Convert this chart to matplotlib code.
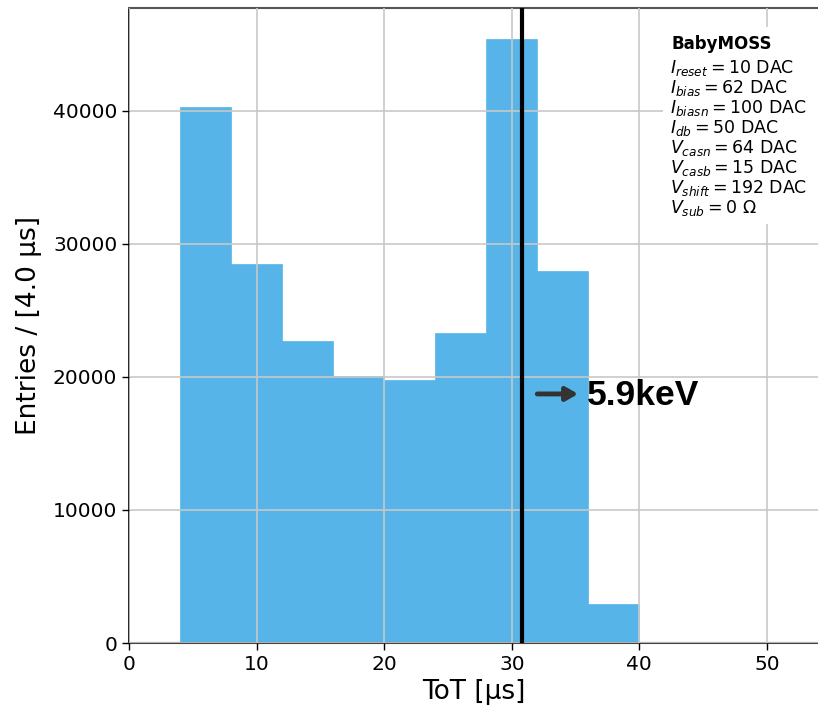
import matplotlib
matplotlib.use("Agg")
import matplotlib.pyplot as plt
from matplotlib import font_manager as fm
import numpy as np

# Data
bin_edges = [4, 8, 12, 16, 20, 24, 28, 32, 36, 40, 44]
counts = [40250, 28500, 22700, 20080, 19780, 23300, 45420, 27970, 2930, 60]
peak_tot = 30.8
peak_label = "5.9keV"
info_title = "BabyMOSS"
info_lines = [
    r"$I_{reset} = 10$ DAC",
    r"$I_{bias} = 62$ DAC",
    r"$I_{biasn} = 100$ DAC",
    r"$I_{db} = 50$ DAC",
    r"$V_{casn} = 64$ DAC",
    r"$V_{casb} = 15$ DAC",
    r"$V_{shift} = 192$ DAC",
    r"$V_{sub} = 0\ \Omega$",
]
xticks = [0, 10, 20, 30, 40, 50]
yticks = [0, 10000, 20000, 30000, 40000]

bold_path = None
for f in fm.findSystemFonts():
    if f.split("/")[-1] == "LiberationSans-Bold.ttf":
        bold_path = f
        break
if bold_path:
    peak_font = fm.FontProperties(fname=bold_path, size=25.5)
else:
    peak_font = fm.FontProperties(family="Roboto", weight="bold", size=25.5)

fig = plt.figure(figsize=(8.18, 7.05), dpi=100)
ax = fig.add_axes([0.1577, 0.0879, 0.8423, 0.9001])

widths = np.diff(bin_edges)
ax.bar(bin_edges[:-1], counts, width=widths, align="edge",
       color="#56B4E9", edgecolor="#56B4E9", linewidth=0.5, zorder=1)

ax.set_xlim(0, 54)
ax.set_ylim(0, 1.05 * max(counts))
ax.set_xticks(xticks)
ax.set_yticks(yticks)
ax.grid(True, color="#c8c8c8", linewidth=1.2, zorder=2)
ax.set_axisbelow(False)
ax.tick_params(axis="both", labelsize=14.5, direction="out", length=5, width=1)

ax.spines["right"].set_visible(False)
ax.spines["top"].set_color("#555555")
ax.spines["top"].set_linewidth(1.5)
ax.spines["left"].set_linewidth(1.2)
ax.spines["bottom"].set_color("#444444")
ax.spines["bottom"].set_linewidth(1.5)

ax.set_xlabel("ToT [μs]", fontsize=19, labelpad=4)
ax.set_ylabel("Entries / [4.0 μs]", fontsize=19, labelpad=8)

ax.axvline(peak_tot, color="black", linewidth=3, zorder=5)

ax.annotate("", xy=(35.2, 18720), xytext=(32.0, 18720),
            arrowprops=dict(arrowstyle="-|>,head_length=0.7,head_width=0.4",
                            color="#333333", lw=3.5, shrinkA=0, shrinkB=0),
            zorder=6)
ax.text(35.85, 18600, peak_label, fontproperties=peak_font,
        va="center", ha="left", zorder=6)

ax.add_patch(plt.Rectangle((0.775, 0.66), 0.225, 0.31, transform=ax.transAxes,
                           facecolor="white", edgecolor="none", zorder=6.5))
ax.text(0.787, 0.958, info_title, transform=ax.transAxes, fontsize=12,
        fontweight="bold", va="top", ha="left", zorder=7)
ax.text(0.785, 0.922, "\n".join(info_lines), transform=ax.transAxes,
        fontsize=12.5, va="top", ha="left", linespacing=1.0, zorder=7)

fig.savefig("out.png", dpi=100)
